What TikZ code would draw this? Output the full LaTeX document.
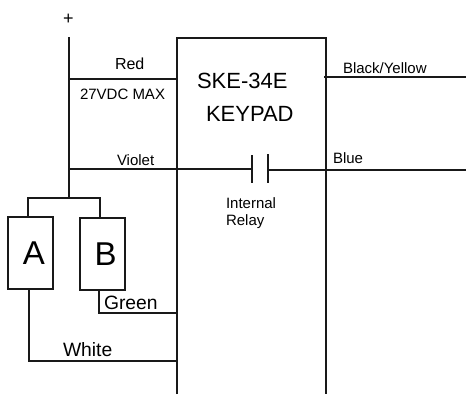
\documentclass[tikz,border=0pt]{standalone}
\usepackage{fontspec}
\setmainfont{Liberation Sans}
\tikzset{
  wire/.style={line width=1.1pt,draw=black!90},
  load/.style={draw=black!90,line width=1.1pt,minimum width=45pt,minimum height=72pt,inner sep=0pt,outer sep=0pt},
  lbl/.style={anchor=base west,inner sep=0pt,outer sep=0pt,text=black},
  lab/.style={lbl,font=\fontsize{15}{15}\selectfont},
  labbig/.style={lbl,font=\fontsize{19.3}{19.3}\selectfont},
  title/.style={lbl,font=\fontsize{22}{22}\selectfont},
  letter/.style={lbl,font=\fontsize{33}{33}\selectfont}
}
\begin{document}
\begin{tikzpicture}[x=1pt,y=-1pt]
\useasboundingbox (0,0) rectangle (466,394);
% keypad outline, open at the bottom
\coordinate (kbl) at (177,394);
\coordinate (ktl) at (177,38);
\coordinate (ktr) at (326,38);
\coordinate (kbr) at (326,394);
\draw[wire] (kbl) -- (ktl) -- (ktr) -- (kbr);
% supply
\coordinate (top) at (69,37);
\coordinate (fork) at (69,198);
\draw[wire] (top) -- (fork);
\coordinate (redL) at (69,79);
\coordinate (redR) at (177,79);
\draw[wire] (redL) -- (redR);
\coordinate (byL) at (324,77);
\coordinate (byR) at (466,77);
\draw[wire] (byL) -- (byR);
% relay
\coordinate (violetL) at (69,169);
\coordinate (plateA) at (252,169);
\coordinate (plateB) at (268,170);
\coordinate (blueR) at (466,170);
\draw[wire] (violetL) -- (plateA);
\draw[wire] (plateB) -- (blueR);
\draw[wire] (252,155) -- (plateA) -- (252,183);
\draw[wire] (268,154) -- (plateB) -- (268,183);
% loads
\node[load] (A) at (30.5,253) {};
\node[load] (B) at (102.5,254) {};
\coordinate (forkL) at (28,198);
\coordinate (forkR) at (100,198);
\draw[wire] (A.north -| forkL) -- (forkL) -- (forkR) -- (B.north -| forkR);
\coordinate (green) at (99,313);
\coordinate (greenR) at (177,313);
\draw[wire] (B.south -| green) -- (green) -- (greenR);
\coordinate (white) at (29,361);
\coordinate (whiteR) at (177,361);
\draw[wire] (A.south -| white) -- (white) -- (whiteR);
% labels
\node[lbl,font=\fontsize{18}{18}\selectfont] (plus) at (63,24) {+};
\node[lab,font=\fontsize{16}{16}\selectfont] (red) at (115,69) {Red};
\node[lab] (max) at (80,99.5) {27VDC MAX};
\node[lab] (violet) at (117,165.5) {Violet};
\node[title] (ske) at (197,88) {SKE-34E};
\node[title] (kp) at (206,121) {KEYPAD};
\node[lab] (by) at (343,73) {Black/Yellow};
\node[lab] (blue) at (333,163) {Blue};
\node[lab] (int) at (226,208) {Internal};
\node[lab] (rel) at (226,225.5) {Relay};
\node[letter] (la) at (23,264) {A};
\node[letter] (lb) at (94.5,265) {B};
\node[labbig] (gr) at (104,309) {Green};
\node[labbig] (wh) at (63,356) {White};
\end{tikzpicture}
\end{document}
